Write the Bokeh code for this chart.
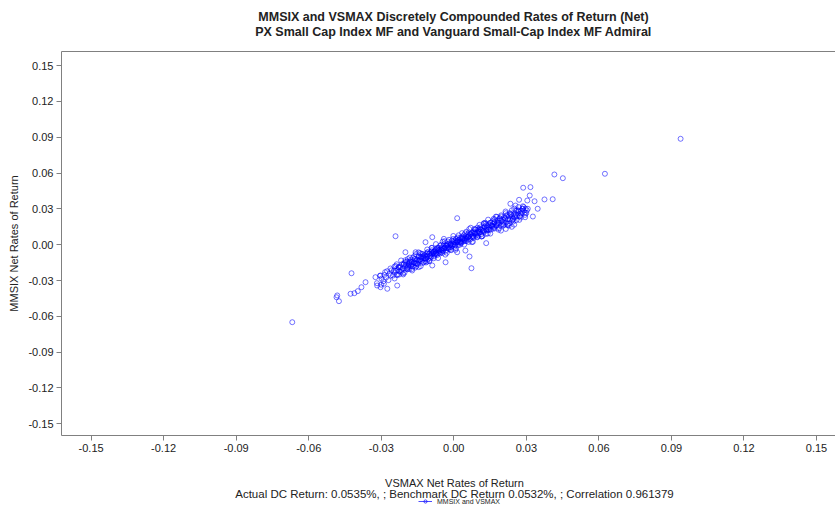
from bokeh.plotting import figure
from bokeh.layouts import column
from bokeh.models import (Range1d, FixedTicker, LinearAxis, Label, Legend,
                          LegendItem, ColumnDataSource)
from bokeh.embed import file_html
from bokeh.resources import INLINE

title_line1 = "MMSIX and VSMAX Discretely Compounded Rates of Return (Net)"
title_line2 = "PX Small Cap Index MF and Vanguard Small-Cap Index MF Admiral"
x_label = "VSMAX Net Rates of Return"
y_label = "MMSIX Net Rates of Return"
stats_line = "Actual DC Return: 0.0535%, ; Benchmark DC Return 0.0532%, ; Correlation 0.961379"
legend_label = "MMSIX and VSMAX"

tick_values = [-0.15, -0.12, -0.09, -0.06, -0.03, 0.0, 0.03, 0.06, 0.09, 0.12, 0.15]
tick_labels = ["-0.15", "-0.12", "-0.09", "-0.06", "-0.03", "0.00", "0.03", "0.06", "0.09", "0.12", "0.15"]

# VSMAX (x) and MMSIX (y) daily net returns
vsmax_low = [-0.0318, -0.0305, -0.0299, -0.0291, -0.0287, -0.0280, -0.0276, -0.0270, -0.0266, -0.0261,
             -0.0257, -0.0252, -0.0248, -0.0244, -0.0240, -0.0236, -0.0232, -0.0228, -0.0225, -0.0221,
             -0.0218, -0.0214, -0.0211, -0.0207, -0.0204, -0.0201, -0.0262, -0.0284, -0.0300, -0.0245,
             -0.0317, -0.0303, -0.0289, -0.0275, -0.0324, -0.0303]
mmsix_low = [-0.0322, -0.0260, -0.0284, -0.0306, -0.0253, -0.0276, -0.0222, -0.0297, -0.0243, -0.0258,
             -0.0214, -0.0259, -0.0216, -0.0232, -0.0178, -0.0254, -0.0210, -0.0187, -0.0224, -0.0190,
             -0.0227, -0.0163, -0.0200, -0.0167, -0.0234, -0.0181, -0.0199, -0.0230, -0.0335, -0.0283,
             -0.0342, -0.0356, -0.0327, -0.0369, -0.0272, -0.0258]

vsmax_midlow = [-0.0198, -0.0194, -0.0193, -0.0188, -0.0186, -0.0184, -0.0179, -0.0177, -0.0173, -0.0171,
                -0.0169, -0.0165, -0.0161, -0.0159, -0.0157, -0.0153, -0.0149, -0.0147, -0.0145, -0.0141,
                -0.0137, -0.0135, -0.0133, -0.0129, -0.0126, -0.0122, -0.0120, -0.0118, -0.0114, -0.0110,
                -0.0108, -0.0106, -0.0102, -0.0190, -0.0160, -0.0140, -0.0115, -0.0175, -0.0146, -0.0125,
                -0.0185, -0.0155, -0.0134, -0.0111]
mmsix_midlow = [-0.0168, -0.0195, -0.0142, -0.0180, -0.0167, -0.0204, -0.0141, -0.0178, -0.0145, -0.0182,
                -0.0110, -0.0147, -0.0154, -0.0121, -0.0158, -0.0125, -0.0163, -0.0130, -0.0097, -0.0134,
                -0.0101, -0.0138, -0.0105, -0.0153, -0.0110, -0.0087, -0.0114, -0.0091, -0.0118, -0.0065,
                -0.0093, -0.0120, -0.0077, -0.0120, -0.0192, -0.0070, -0.0149, -0.0156, -0.0138, -0.0099,
                -0.0146, -0.0137, -0.0118, -0.0095]

vsmax_core_a = [-0.0101, -0.0094, -0.0091, -0.0084, -0.0080, -0.0076, -0.0069, -0.0066, -0.0060, -0.0054,
                -0.0051, -0.0044, -0.0041, -0.0035, -0.0029, -0.0026, -0.0020, -0.0014, -0.0011, -0.0004,
                0.0001, 0.0006, 0.0009, 0.0016, 0.0019, 0.0026, 0.0030, 0.0034, 0.0041, 0.0044,
                0.0051, 0.0054, 0.0061, 0.0064, 0.0071, 0.0074, 0.0081, 0.0084, 0.0091, 0.0094, 0.0101]
mmsix_core_a = [-0.0075, -0.0100, -0.0046, -0.0071, -0.0076, -0.0041, -0.0087, -0.0042, -0.0067, -0.0042,
                -0.0028, -0.0053, 0.0002, -0.0023, -0.0029, 0.0006, -0.0039, 0.0006, -0.0020, 0.0005,
                0.0020, -0.0005, 0.0050, 0.0024, 0.0019, 0.0054, 0.0009, 0.0053, 0.0028, 0.0053,
                0.0068, 0.0042, 0.0097, 0.0072, 0.0067, 0.0101, 0.0056, 0.0101, 0.0076, 0.0100, 0.0115]

vsmax_core_b = [-0.0098, -0.0092, -0.0088, -0.0082, -0.0078, -0.0072, -0.0068, -0.0062, -0.0058, -0.0052,
                -0.0048, -0.0043, -0.0038, -0.0032, -0.0028, -0.0023, -0.0017, -0.0013, -0.0008, -0.0003,
                0.0003, 0.0007, 0.0013, 0.0018, 0.0022, 0.0028, 0.0032, 0.0038, 0.0043, 0.0047,
                0.0053, 0.0058, 0.0062, 0.0068, 0.0072, 0.0078, 0.0082, 0.0088, 0.0092, 0.0098]
mmsix_core_b = [-0.0093, -0.0058, -0.0073, -0.0098, -0.0054, -0.0079, -0.0034, -0.0049, -0.0055, 0.0000,
                -0.0045, -0.0010, -0.0026, -0.0051, -0.0006, -0.0031, 0.0013, -0.0002, -0.0007, 0.0048,
                0.0002, 0.0037, 0.0022, -0.0003, 0.0041, 0.0016, 0.0061, 0.0046, 0.0040, 0.0095,
                0.0050, 0.0085, 0.0069, 0.0044, 0.0089, 0.0064, 0.0108, 0.0093, 0.0088, 0.0143]

vsmax_core_c = [-0.0092, -0.0082, -0.0072, -0.0062, -0.0052, -0.0042, -0.0032, -0.0022, -0.0012, -0.0002,
                0.0008, 0.0018, 0.0028, 0.0038, 0.0048, 0.0058, 0.0068, 0.0078, 0.0088, 0.0098]
mmsix_core_c = [-0.0077, -0.0058, -0.0068, -0.0044, -0.0044, -0.0030, -0.0010, -0.0021, 0.0004, 0.0003,
                0.0018, 0.0037, 0.0027, 0.0051, 0.0051, 0.0065, 0.0085, 0.0074, 0.0099, 0.0098]

vsmax_band_d = [-0.0245, -0.0233, -0.0223, -0.0211, -0.0200, -0.0190, -0.0178, -0.0167, -0.0157, -0.0145,
                -0.0134, -0.0124, -0.0112, -0.0101, -0.0090, -0.0079, -0.0068, -0.0057, -0.0046, -0.0035,
                -0.0024, -0.0013, -0.0002, 0.0009, 0.0020, 0.0031, 0.0042, 0.0053, 0.0064, 0.0075,
                0.0086, 0.0097, 0.0108, 0.0119, 0.0130, 0.0141, 0.0152, 0.0163, 0.0174, 0.0185,
                0.0196, 0.0207, 0.0218, 0.0229, 0.0240, 0.0251, 0.0262, 0.0273, 0.0284, 0.0295]
mmsix_band_d = [-0.0183, -0.0251, -0.0182, -0.0240, -0.0130, -0.0191, -0.0129, -0.0179, -0.0079, -0.0188,
                -0.0077, -0.0148, -0.0076, -0.0136, -0.0026, -0.0085, -0.0025, -0.0074, 0.0026, -0.0083,
                0.0027, -0.0042, 0.0028, -0.0031, 0.0079, 0.0019, 0.0080, 0.0030, 0.0131, 0.0021,
                0.0132, 0.0062, 0.0133, 0.0073, 0.0184, 0.0124, 0.0184, 0.0135, 0.0235, 0.0126,
                0.0236, 0.0167, 0.0237, 0.0178, 0.0288, 0.0229, 0.0289, 0.0239, 0.0300, 0.0250]

vsmax_band_e = [-0.0240, -0.0228, -0.0217, -0.0206, -0.0195, -0.0184, -0.0173, -0.0162, -0.0151, -0.0140,
                -0.0129, -0.0118, -0.0107, -0.0096, -0.0085, -0.0074, -0.0063, -0.0052, -0.0041, -0.0030,
                -0.0019, -0.0008, 0.0003, 0.0014, 0.0025, 0.0036, 0.0047, 0.0058, 0.0069, 0.0080,
                0.0091, 0.0102, 0.0113, 0.0124, 0.0135, 0.0146, 0.0157, 0.0168, 0.0179, 0.0190,
                0.0201, 0.0212, 0.0223, 0.0234, 0.0245, 0.0256, 0.0267, 0.0278, 0.0289, 0.0300]
mmsix_band_e = [-0.0218, -0.0192, -0.0211, -0.0156, -0.0205, -0.0155, -0.0164, -0.0119, -0.0158, -0.0123,
                -0.0098, -0.0117, -0.0062, -0.0111, -0.0061, -0.0070, -0.0025, -0.0064, -0.0029, -0.0004,
                -0.0023, 0.0032, -0.0017, 0.0033, 0.0024, 0.0069, 0.0030, 0.0065, 0.0091, 0.0071,
                0.0126, 0.0077, 0.0127, 0.0118, 0.0163, 0.0124, 0.0159, 0.0185, 0.0165, 0.0221,
                0.0171, 0.0221, 0.0212, 0.0257, 0.0218, 0.0253, 0.0279, 0.0259, 0.0315, 0.0265]

vsmax_band_f = [-0.0236, -0.0227, -0.0218, -0.0209, -0.0200, -0.0191, -0.0182, -0.0173, -0.0164, -0.0155,
                -0.0146, -0.0137, -0.0128, -0.0119, -0.0110, -0.0101, -0.0092, -0.0083, -0.0074, -0.0065,
                -0.0056, -0.0047, -0.0038, -0.0029, -0.0020, -0.0011, -0.0002, 0.0007, 0.0016, 0.0025,
                0.0034, 0.0043, 0.0052, 0.0061, 0.0070, 0.0079, 0.0088, 0.0097, 0.0106, 0.0115,
                0.0124, 0.0133, 0.0142, 0.0151, 0.0160, 0.0169, 0.0178, 0.0187, 0.0196, 0.0205,
                0.0214, 0.0223, 0.0232, 0.0241, 0.0250, 0.0259, 0.0268, 0.0277, 0.0286, 0.0295]
mmsix_band_f = [-0.0164, -0.0251, -0.0132, -0.0249, -0.0145, -0.0206, -0.0108, -0.0204, -0.0096, -0.0182,
                -0.0064, -0.0180, -0.0077, -0.0138, -0.0040, -0.0136, -0.0027, -0.0114, 0.0005, -0.0112,
                -0.0008, -0.0070, 0.0029, -0.0068, 0.0041, -0.0046, 0.0073, -0.0043, 0.0060, -0.0001,
                0.0097, 0.0001, 0.0109, 0.0023, 0.0142, 0.0025, 0.0129, 0.0067, 0.0166, 0.0069,
                0.0178, 0.0091, 0.0210, 0.0093, 0.0197, 0.0136, 0.0234, 0.0138, 0.0246, 0.0160,
                0.0278, 0.0162, 0.0265, 0.0204, 0.0303, 0.0206, 0.0315, 0.0228, 0.0322, 0.0230]

vsmax_midhigh = [0.0102, 0.0107, 0.0110, 0.0113, 0.0118, 0.0123, 0.0126, 0.0131, 0.0134, 0.0137,
                 0.0142, 0.0147, 0.0150, 0.0153, 0.0158, 0.0163, 0.0166, 0.0169, 0.0174, 0.0179,
                 0.0182, 0.0185, 0.0190, 0.0195, 0.0198, 0.0104, 0.0112, 0.0120, 0.0128, 0.0136,
                 0.0144, 0.0152, 0.0160, 0.0168, 0.0176, 0.0184, 0.0192, 0.0115, 0.0140, 0.0165, 0.0125]
mmsix_midhigh = [0.0127, 0.0101, 0.0145, 0.0088, 0.0122, 0.0136, 0.0110, 0.0174, 0.0127, 0.0141,
                 0.0165, 0.0139, 0.0183, 0.0126, 0.0160, 0.0174, 0.0148, 0.0212, 0.0165, 0.0179,
                 0.0203, 0.0177, 0.0221, 0.0164, 0.0198, 0.0109, 0.0126, 0.0114, 0.0152, 0.0119,
                 0.0147, 0.0164, 0.0152, 0.0190, 0.0157, 0.0185, 0.0202, 0.0069, 0.0093, 0.0217, 0.0179]

vsmax_high = [0.0201, 0.0205, 0.0209, 0.0213, 0.0217, 0.0221, 0.0225, 0.0229, 0.0233, 0.0237,
              0.0241, 0.0245, 0.0249, 0.0253, 0.0257, 0.0261, 0.0265, 0.0269, 0.0273, 0.0277,
              0.0281, 0.0285, 0.0289, 0.0293, 0.0297, 0.0302, 0.0306, 0.0223, 0.0247, 0.0215,
              0.0271, 0.0195, 0.0215, 0.0240, 0.0250, 0.0228]
mmsix_high = [0.0211, 0.0185, 0.0229, 0.0212, 0.0186, 0.0250, 0.0214, 0.0238, 0.0211, 0.0255,
              0.0239, 0.0213, 0.0257, 0.0240, 0.0284, 0.0238, 0.0262, 0.0286, 0.0239, 0.0283,
              0.0267, 0.0301, 0.0285, 0.0268, 0.0302, 0.0287, 0.0301, 0.0172, 0.0195, 0.0264,
              0.0208, 0.0118, 0.0132, 0.0150, 0.0168, 0.0160]

vsmax_outliers = [-0.0668, -0.0482, -0.0485, -0.0475, -0.0423, -0.0427, -0.0411, -0.0397, -0.0382, -0.0365,
                  -0.0241, -0.0234, 0.0014, 0.0073, 0.0065, 0.0134, 0.0416, 0.0451, 0.0287, 0.0317,
                  0.0314, 0.0334, 0.0375, 0.0409, 0.0347, 0.0327, 0.0270, 0.0304, 0.0938, 0.0625,
                  -0.0117, -0.0089, -0.0041, -0.0158, -0.0034, -0.0089, -0.0172, 0.0014, 0.0048, -0.0200,
                  -0.0110, 0.0234, 0.0255]
mmsix_outliers = [-0.0649, -0.0425, -0.0440, -0.0473, -0.0239, -0.0411, -0.0406, -0.0389, -0.0356, -0.0314,
                  0.0071, -0.0342, 0.0222, -0.0197, -0.0099, 0.0013, 0.0588, 0.0557, 0.0477, 0.0482,
                  0.0412, 0.0364, 0.0379, 0.0381, 0.0301, 0.0236, 0.0376, 0.0370, 0.0887, 0.0594,
                  0.0021, 0.0063, 0.0049, -0.0063, -0.0147, -0.0174, -0.0216, -0.0063, -0.0049, -0.0063,
                  -0.0141, 0.0343, 0.0328]

vsmax = (vsmax_low + vsmax_midlow + vsmax_core_a + vsmax_core_b + vsmax_core_c + vsmax_band_d
         + vsmax_band_e + vsmax_band_f + vsmax_midhigh + vsmax_high + vsmax_outliers)
mmsix = (mmsix_low + mmsix_midlow + mmsix_core_a + mmsix_core_b + mmsix_core_c + mmsix_band_d
         + mmsix_band_e + mmsix_band_f + mmsix_midhigh + mmsix_high + mmsix_outliers)

FONT = "Liberation Sans"
TEXT = "#222222"
FRAME = "#808080"
POINT = "#0000FF"
W = 835
FRAME_LEFT = 61      # the column aligns every strip's frame with the scatter's frame


def text_strip(height):
    f = figure(width=W, height=height, output_backend="svg", toolbar_location=None,
               x_axis_type=None, y_axis_type=None, x_range=Range1d(0, 1), y_range=Range1d(0, 1),
               min_border=0)
    f.outline_line_color = None
    f.grid.visible = False
    return f


def add_text(fig, txt, x, y, size, style="normal"):
    fig.add_layout(Label(x=x - FRAME_LEFT, y=y, x_units="screen", y_units="screen", text=txt,
                         text_align="center", text_baseline="middle", text_font=FONT,
                         text_font_size=size, text_font_style=style, text_color=TEXT))


# --- title strip
top = text_strip(50)
add_text(top, title_line1, 453, 33.3, "12.5px", "bold")
add_text(top, title_line2, 453, 18.3, "12.5px", "bold")

# --- main scatter
p = figure(width=W, height=411, output_backend="svg", toolbar_location=None,
           x_range=Range1d(-0.16224, 0.15786), y_range=Range1d(-0.15980, 0.16181),
           min_border_left=FRAME_LEFT, min_border_right=0, min_border_top=1, min_border_bottom=26)
p.outline_line_color = None
p.grid.visible = False

for ax in (p.xaxis[0], p.yaxis[0]):
    ax.ticker = FixedTicker(ticks=tick_values)
    ax.major_label_overrides = {v: s for v, s in zip(tick_values, tick_labels)}
    ax.minor_tick_line_color = None
    ax.major_tick_in = 0
    ax.major_tick_out = 5
    ax.axis_line_color = FRAME
    ax.major_tick_line_color = FRAME
    ax.major_label_text_font = FONT
    ax.major_label_text_font_size = "11px"
    ax.major_label_text_color = TEXT
    ax.major_label_standoff = 3

p.yaxis[0].axis_label = y_label
p.yaxis[0].axis_label_text_font = FONT
p.yaxis[0].axis_label_text_font_size = "11px"
p.yaxis[0].axis_label_text_font_style = "normal"
p.yaxis[0].axis_label_text_color = TEXT
p.yaxis[0].axis_label_standoff = 5

top_axis = LinearAxis(ticker=FixedTicker(ticks=[]), major_label_text_font_size="0px",
                      major_tick_out=0, minor_tick_out=0, major_tick_in=0, minor_tick_in=0,
                      major_label_standoff=0, axis_line_color=FRAME)
p.add_layout(top_axis, "above")

src = ColumnDataSource(dict(x=vsmax, y=mmsix))
p.scatter("x", "y", source=src, marker="circle", size=5, fill_color=None,
          line_color=POINT, line_alpha=0.55, line_width=1)

# --- bottom strip: axis title, statistics, legend
bot = text_strip(51)
add_text(bot, x_label, 454, 30, "11px")
add_text(bot, stats_line, 454, 19, "11.5px")
nan = float("nan")
leg_line = bot.line(x=[nan], y=[nan], line_color=POINT, line_alpha=0.7, line_width=1)
leg_pts = bot.scatter(x=[nan], y=[nan], marker="circle", size=4, fill_color=None,
                      line_color=POINT, line_alpha=0.7)
legend = Legend(items=[LegendItem(label=legend_label, renderers=[leg_line, leg_pts])],
                location=(418 - FRAME_LEFT, 7), label_text_font=FONT, label_text_font_size="7px",
                label_text_color=TEXT, glyph_width=14, glyph_height=8, label_height=8,
                label_width=20, padding=0, margin=0, spacing=0, label_standoff=5,
                border_line_color=None, background_fill_alpha=0)
bot.add_layout(legend)

page = column(top, p, bot, spacing=0)
open("out.html", "w").write(file_html(page, INLINE))
